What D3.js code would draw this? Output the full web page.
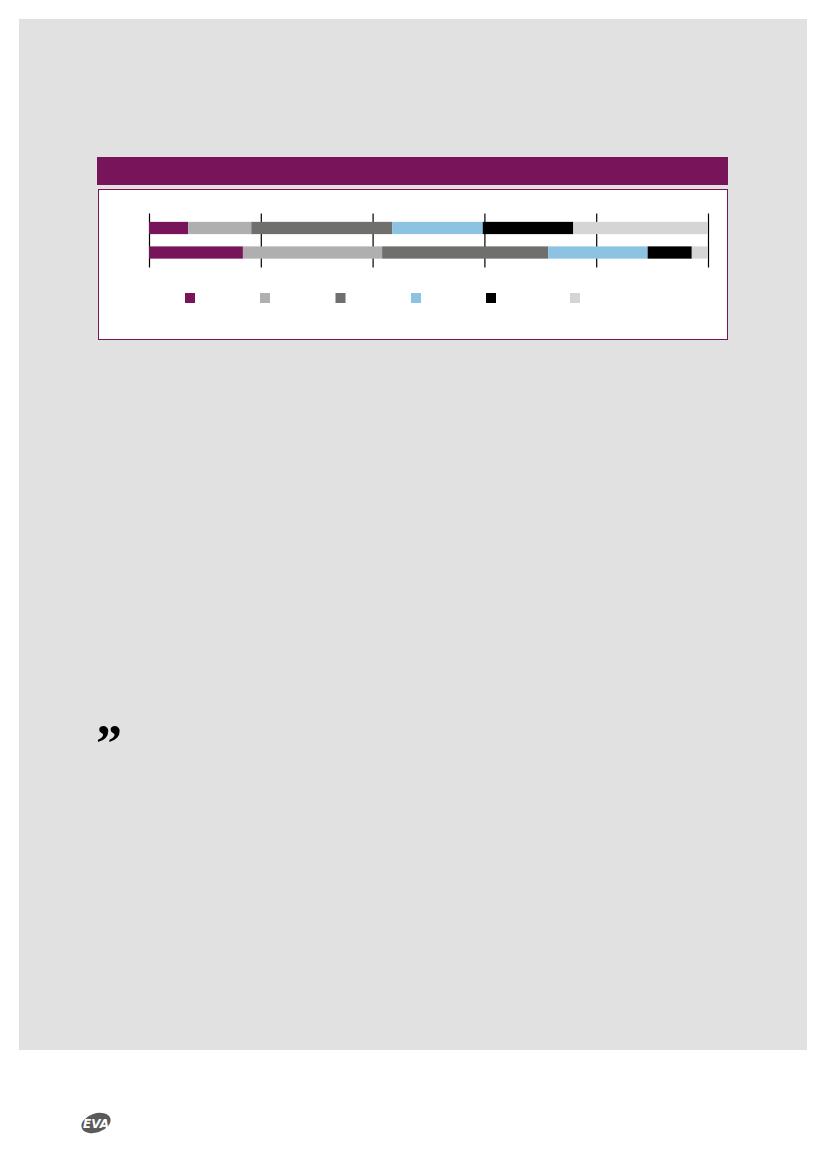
<!DOCTYPE html>
<html>
<head>
<meta charset="utf-8">
<script src="https://cdn.jsdelivr.net/npm/d3@7"></script>
<style>
  html, body { margin: 0; padding: 0; background: #ffffff; }
  svg { display: block; }
</style>
</head>
<body>
<svg id="page" width="827" height="1169"></svg>
<script>
// ---- data ----
const categories = ["Row 1", "Row 2"];
const seriesKeys = ["s1", "s2", "s3", "s4", "s5", "s6"];
const seriesColors = ["#78155a", "#afafaf", "#6f6f6e", "#8cc3e2", "#000000", "#d5d5d5"];
const row1Values = [7.0, 11.3, 25.2, 16.2, 16.2, 24.1];
const row2Values = [16.8, 24.9, 29.7, 17.8, 7.9, 2.9];
const tickValues = [0, 20, 40, 60, 80, 100];

const rows = [row1Values, row2Values].map((vals, i) => {
  const o = { cat: categories[i] };
  seriesKeys.forEach((k, j) => o[k] = vals[j]);
  return o;
});

const svg = d3.select("#page");

// page panel
svg.append("rect").attr("x", 19).attr("y", 19).attr("width", 788).attr("height", 1031)
  .attr("fill", "#e1e1e1");

// title band
svg.append("rect").attr("x", 97).attr("y", 157).attr("width", 631).attr("height", 28)
  .attr("fill", "#78155a");

// chart box
svg.append("rect").attr("x", 98.5).attr("y", 189.5).attr("width", 629).attr("height", 150)
  .attr("fill", "#ffffff").attr("stroke", "#78155a").attr("stroke-width", 1);

// scales
const x = d3.scaleLinear().domain([0, 100]).range([149, 708]);
const y = d3.scaleBand().domain(categories).range([214.5, 266]).paddingInner(0.5).paddingOuter(0.3);

// ticks (no labels)
const axis = d3.axisBottom(x).tickValues(tickValues).tickSize(54).tickFormat("");
const gAxis = svg.append("g").attr("transform", "translate(0,213.5)").call(axis);
gAxis.select(".domain").remove();
gAxis.selectAll(".tick line").attr("stroke", "#000").attr("stroke-width", 1.2);

// stacked bars
const stack = d3.stack().keys(seriesKeys);
const layers = stack(rows);
const color = d3.scaleOrdinal().domain(seriesKeys).range(seriesColors);

svg.append("g").selectAll("g").data(layers).join("g")
  .attr("fill", d => color(d.key))
  .selectAll("rect").data(d => d).join("rect")
  .attr("x", d => x(d[0]))
  .attr("width", d => x(d[1]) - x(d[0]))
  .attr("y", d => y(d.data.cat))
  .attr("height", y.bandwidth());

// legend (swatches only)
const legendX = [185, 260, 335.5, 411, 486, 570];
svg.append("g").selectAll("rect").data(seriesKeys).join("rect")
  .attr("x", (d, i) => legendX[i])
  .attr("y", 293)
  .attr("width", 10).attr("height", 10)
  .attr("fill", d => color(d));

// quote mark
svg.append("text").attr("x", 96).attr("y", 761)
  .attr("font-family", "Liberation Serif, serif").attr("font-weight", "bold")
  .attr("font-size", 52).attr("fill", "#000").text("\u201D");

// EVA logo
const logo = svg.append("g").attr("transform", "translate(96,1123)");
logo.append("ellipse").attr("rx", 15).attr("ry", 9.5).attr("transform", "rotate(-18)")
  .attr("fill", "#5a5a5a");
logo.append("text").attr("x", 0).attr("y", 4.5).attr("text-anchor", "middle")
  .attr("font-family", "DejaVu Sans, sans-serif").attr("font-weight", "bold")
  .attr("font-style", "italic").attr("font-size", 12).attr("fill", "#ffffff")
  .text("EVA");
</script>
</body>
</html>
